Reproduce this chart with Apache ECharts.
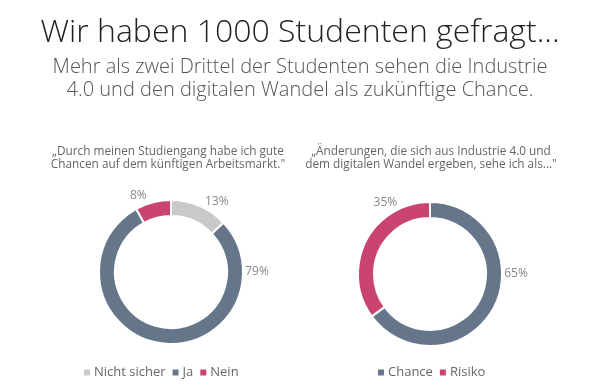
<!DOCTYPE html>
<html><head><meta charset="utf-8">
<script src="https://cdn.jsdelivr.net/npm/echarts@6/dist/echarts.min.js"></script>
<style>html,body{margin:0;padding:0;background:#fff}#c{width:600px;height:386px}</style>
</head><body><div id="c"></div>
<script>
const leftNames = ['Nicht sicher', 'Ja', 'Nein'];
const leftValues = [13, 79, 8];
const leftColors = ['#c9c9c9', '#66768a', '#c9456f'];
const rightNames = ['Chance', 'Risiko'];
const rightValues = [65, 35];
const rightColors = ['#66768a', '#c9456f'];
// label placement angles (degrees clockwise from 12 o'clock), as in the reference
const leftLabelAngles = [33, 90, -23];
const rightLabelAngles = [90, -32];

const F = '"Open Sans", sans-serif';
const OUTER = 72, INNER = 56;
const centers = [[171, 272], [430, 274]];
const labelAngles = [leftLabelAngles, rightLabelAngles];
const chart = echarts.init(document.getElementById('c'));
function mk(names, vals, cols) { return names.map((n, i) => ({ name: n, value: vals[i], itemStyle: { color: cols[i] } })); }
function layout(p) {
  const c = centers[p.seriesIndex];
  const a = labelAngles[p.seriesIndex][p.dataIndex] * Math.PI / 180;
  const d = OUTER + 10 + 4 * Math.abs(Math.sin(a));
  return { x: c[0] + d * Math.sin(a), y: c[1] - d * Math.cos(a), align: 'center', verticalAlign: 'middle' };
}
const pieBase = {
  type: 'pie', radius: [INNER, OUTER], startAngle: 90, clockwise: true,
  itemStyle: { borderColor: '#fff', borderWidth: 2 },
  label: { show: true, position: 'outside', formatter: '{c}%', color: '#888', fontFamily: F, fontSize: 12 },
  labelLine: { show: false },
  labelLayout: layout,
  emphasis: { disabled: true }, animation: false
};
chart.setOption({
  animation: false,
  title: [
    { text: 'Wir haben 1000 Studenten gefragt...', left: 300, top: 17, textAlign: 'center', padding: 0,
      textStyle: { fontFamily: F, fontWeight: 300, fontSize: 32, color: '#222' } },
    { text: 'Mehr als zwei Drittel der Studenten sehen die Industrie\n4.0 und den digitalen Wandel als zukünftige Chance.', left: 300, top: 56, textAlign: 'center', padding: 0,
      textStyle: { fontFamily: F, fontWeight: 300, fontSize: 20, lineHeight: 23, color: '#555', align: 'center' } },
    { text: '„Durch meinen Studiengang habe ich gute\nChancen auf dem künftigen Arbeitsmarkt."', left: 168, top: 145, textAlign: 'center', padding: 0,
      textStyle: { fontFamily: F, fontWeight: 400, fontSize: 11.8, lineHeight: 13, color: '#666', align: 'center' } },
    { text: '„Änderungen, die sich aus Industrie 4.0 und\ndem digitalen Wandel ergeben, sehe ich als..."', left: 431, top: 145, textAlign: 'center', padding: 0,
      textStyle: { fontFamily: F, fontWeight: 400, fontSize: 11.8, lineHeight: 13, color: '#666', align: 'center' } }
  ],
  legend: [
    { data: leftNames, left: 77, top: 361, itemWidth: 8, itemHeight: 8, itemGap: 5, icon: 'rect',
      textStyle: { fontFamily: F, fontSize: 13, color: '#666', padding: [0, 0, 0, -2] } },
    { data: rightNames, left: 371, top: 361, itemWidth: 8, itemHeight: 8, itemGap: 5, icon: 'rect',
      textStyle: { fontFamily: F, fontSize: 13, color: '#666', padding: [0, 0, 0, -2] } }
  ],
  series: [
    Object.assign({}, pieBase, { name: 'links', center: centers[0], data: mk(leftNames, leftValues, leftColors) }),
    Object.assign({}, pieBase, { name: 'rechts', center: centers[1], data: mk(rightNames, rightValues, rightColors) })
  ]
});
</script></body></html>
